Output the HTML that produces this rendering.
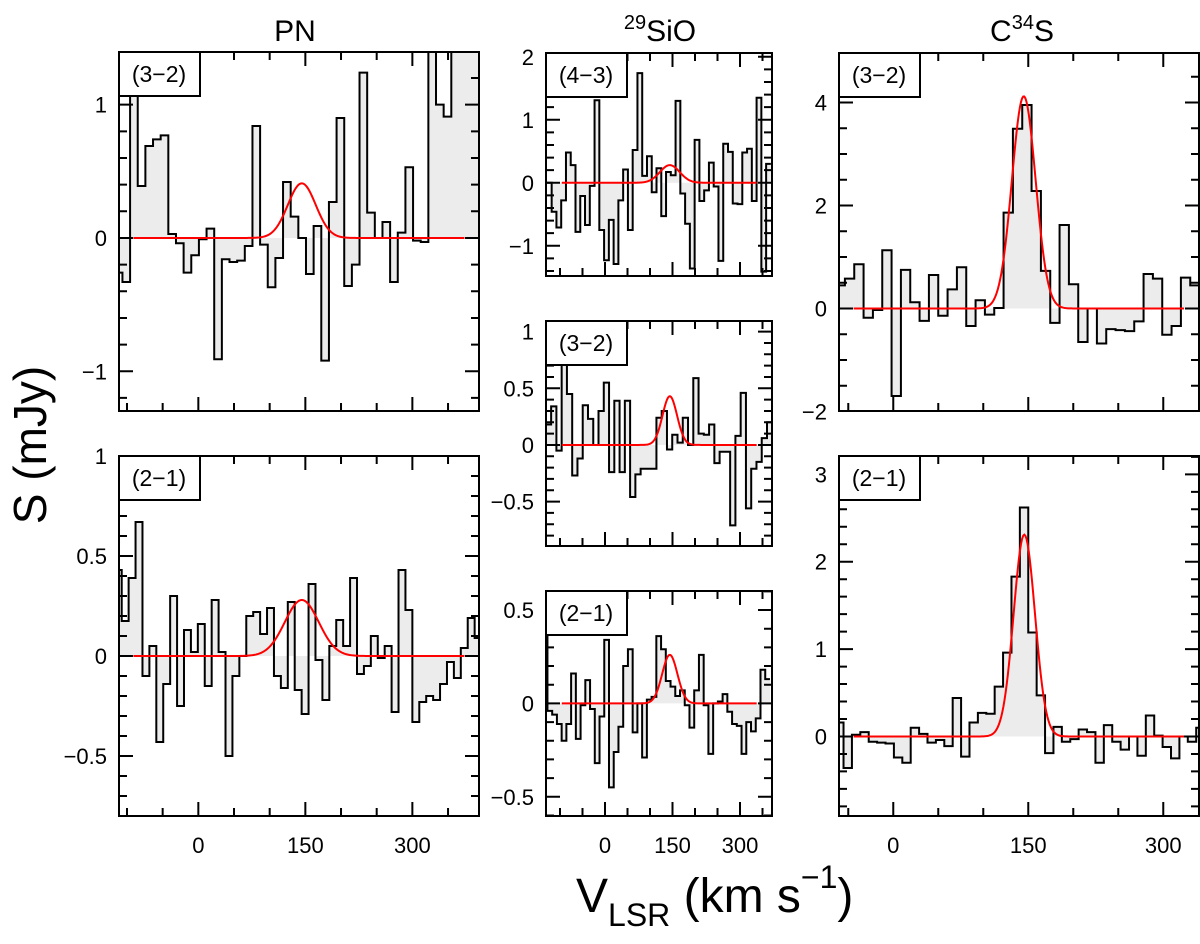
<!DOCTYPE html>
<html><head><meta charset="utf-8"><style>
html,body{margin:0;padding:0;background:#fff;}
svg text{font-family:"Liberation Sans",sans-serif;fill:#000;}
</style></head><body>
<svg id="fig" xmlns="http://www.w3.org/2000/svg" width="1200" height="939" viewBox="0 0 1200 939">
<text x="295" y="41" font-size="30" text-anchor="middle">PN</text>
<text x="660" y="41" font-size="30" text-anchor="middle"><tspan font-size="20" dy="-12">29</tspan><tspan dy="12">SiO</tspan></text>
<text x="1022" y="41" font-size="30" text-anchor="middle">C<tspan font-size="20" dy="-12">34</tspan><tspan dy="12">S</tspan></text>
<text transform="translate(46,445) rotate(-90)" font-size="46" text-anchor="middle">S  (mJy)</text>
<text x="576" y="912" font-size="48">V<tspan font-size="32" dy="14">LSR</tspan><tspan dy="-14">  (km  s</tspan><tspan font-size="32" dy="-24">−1</tspan><tspan dy="24">)</tspan></text>
</svg>
<script>
// ---- data arrays ----
const pn32Start = -117.1, pn32Width = 10.72;
const pn32Values = [-0.26,-0.33,1.1,0.39,0.69,0.74,0.77,0.03,-0.04,-0.26,-0.13,-0.01,0.07,-0.91,-0.16,-0.18,-0.17,-0.06,0.84,-0.05,-0.37,-0.15,0.42,0.16,0.0,-0.27,0.09,-0.92,0.27,0.9,-0.36,-0.2,1.24,0.19,0.0,0.12,-0.33,0.04,0.53,-0.02,-0.03,1.6,1.0,0.91,1.6,1.6,1.6,1.6];
const pn21Start = -117.1, pn21Width = 9.7;
const pn21Values = [0.43,0.175,0.39,0.67,-0.10,0.05,-0.43,-0.14,0.30,-0.25,0.13,0.02,0.16,-0.15,0.28,0.02,-0.5,-0.1,0,0.2,0.22,0.11,0.24,-0.1,-0.16,0.27,-0.17,-0.29,0.36,-0.02,-0.22,0.05,0.18,0.05,0.39,-0.09,-0.05,0.1,-0.01,0.05,-0.28,0.43,0.23,-0.33,-0.23,-0.2,-0.22,-0.14,-0.03,-0.11,0.04,0.19,0.09];
const sio43Start = -129.1, sio43Width = 10.59;
const sio43Values = [0,-0.46,-0.71,-0.28,0.48,0.28,-0.78,-0.21,-0.67,-0.05,1.31,-0.75,-1.23,-0.59,-1.29,-0.28,0.21,-0.75,0.52,1.74,0.11,0.42,-0.15,0.23,-0.53,0.17,0.12,1.30,-0.17,-0.65,-1.36,0.68,-0.29,-0.12,0.32,-0.06,-1.24,0.62,0.49,-0.33,-0.34,0.48,0.54,-0.29,1.35,-1.41,0.3];
const sio32Start = -131.4, sio32Width = 11.7;
const sio32Values = [0.18,0.34,-0.05,0.75,0.45,-0.27,-0.12,0.35,0.23,0,0.3,0.55,-0.24,0.39,-0.24,0.39,-0.46,-0.26,-0.21,-0.21,-0.21,0.24,0.3,-0.04,0.09,0.02,0.24,0,0.59,0.1,0.09,0.18,-0.16,-0.06,-0.06,-0.71,0.08,0.46,-0.56,-0.21,-0.15,0.06,0.2];
const sio21Start = -138.4, sio21Width = 10.52;
const sio21Values = [0.36,-0.04,-0.06,-0.11,-0.2,-0.11,0.16,-0.19,-0.01,0.125,-0.03,-0.32,-0.07,0.34,-0.45,-0.26,-0.125,0.2,0.29,-0.155,0,-0.29,0.02,0.035,0.36,0.29,0.12,0.09,0.04,0.07,-0.01,-0.13,0.07,0.26,-0.01,-0.27,0,0.01,0.05,-0.045,-0.11,-0.12,-0.27,-0.1,-0.15,-0.08,0.18,0.13];
const c32Start = -64.1, c32Width = 10.37;
const c32Values = [0.45,0.58,0.86,-0.18,-0.03,1.13,-1.70,0.75,0.12,-0.24,0.65,-0.14,0.37,0.8,-0.34,0.16,-0.12,0.01,1.86,3.49,3.95,2.28,0.73,-0.28,1.62,0.47,-0.65,0,-0.68,-0.4,-0.42,-0.44,-0.25,0.67,0.58,-0.51,-0.34,0.6,0.45];
const c21Start = -64.6, c21Width = 9.33;
const c21Values = [0.16,-0.36,0.02,0.05,-0.06,-0.07,-0.08,-0.24,-0.3,0.1,0.03,-0.07,-0.04,-0.11,0.44,-0.23,0.16,0.27,0.26,0.57,0.96,1.83,2.62,1.19,0.47,-0.19,0.11,-0.06,-0.03,0.08,0.05,-0.3,0.13,-0.06,-0.15,0,-0.22,0.24,0.01,-0.12,-0.25,0,-0.06,0.1];
// gaussian fits: [amplitude, center, fwhm, from, to]
const pn32Fit = [0.41,145,46,-91,373];
const pn21Fit = [0.28,145,56,-91,373];
const sio43Fit = [0.28,144,52,-96,337];
const sio32Fit = [0.43,144,38,-96,337];
const sio21Fit = [0.26,144,40,-96,337];
const c32Fit = [4.12,145,31,-44,323];
const c21Fit = [2.31,145.6,28,-44,323];
const xTickLabels = ["0","150","300"];
const xTickValues = [0,150,300];

const NS = "http://www.w3.org/2000/svg";
const svg = document.getElementById('fig');
function mk(tag, attrs, parent){ const e=document.createElementNS(NS,tag); for(const k in attrs) e.setAttribute(k,attrs[k]); (parent||svg).appendChild(e); return e; }

const panels = [
 {id:'pn-32', label:'(3−2)', x0:119,x1:479,y0:52,y1:411, xd:[-111.2,393.4], yd:[1.395,-1.298], yMinor:0.2,yMajor:1, yLab:[[1,'1'],[0,'0'],[-1,'−1']], start:pn32Start,width:pn32Width,vals:pn32Values,fit:pn32Fit,xlab:false},
 {id:'pn-21', label:'(2−1)', x0:119,x1:479,y0:456,y1:816, xd:[-111.2,393.4], yd:[1.0,-0.8], yMinor:0.1,yMajor:0.5, yLab:[[1,'1'],[0.5,'0.5'],[0,'0'],[-0.5,'−0.5']], start:pn21Start,width:pn21Width,vals:pn21Values,fit:pn21Fit,xlab:true},
 {id:'sio-43', label:'(4−3)', x0:546,x1:772,y0:53,y1:276, xd:[-131.1,371.1], yd:[2.06,-1.48], yMinor:0.2,yMajor:1, yLab:[[2,'2'],[1,'1'],[0,'0'],[-1,'−1']], start:sio43Start,width:sio43Width,vals:sio43Values,fit:sio43Fit,xlab:false},
 {id:'sio-32', label:'(3−2)', x0:546,x1:772,y0:321,y1:546, xd:[-131.1,371.1], yd:[1.094,-0.892], yMinor:0.1,yMajor:0.5, yLab:[[1,'1'],[0.5,'0.5'],[0,'0'],[-0.5,'−0.5']], start:sio32Start,width:sio32Width,vals:sio32Values,fit:sio32Fit,xlab:false},
 {id:'sio-21', label:'(2−1)', x0:546,x1:772,y0:591,y1:816, xd:[-131.1,371.1], yd:[0.602,-0.603], yMinor:0.1,yMajor:0.5, yLab:[[0.5,'0.5'],[0,'0'],[-0.5,'−0.5']], start:sio21Start,width:sio21Width,vals:sio21Values,fit:sio21Fit,xlab:true},
 {id:'c34s-32', label:'(3−2)', x0:839,x1:1199,y0:53,y1:411, xd:[-60.3,339.7], yd:[4.96,-1.99], yMinor:0.5,yMajor:2, yLab:[[4,'4'],[2,'2'],[0,'0'],[-2,'−2']], start:c32Start,width:c32Width,vals:c32Values,fit:c32Fit,xlab:false},
 {id:'c34s-21', label:'(2−1)', x0:839,x1:1199,y0:456,y1:816, xd:[-60.3,339.7], yd:[3.21,-0.91], yMinor:0.2,yMajor:1, yLab:[[3,'3'],[2,'2'],[1,'1'],[0,'0']], start:c21Start,width:c21Width,vals:c21Values,fit:c21Fit,xlab:true}
];

panels.forEach((p,pi)=>{
  const sx = v => p.x0 + (v-p.xd[0])/(p.xd[1]-p.xd[0])*(p.x1-p.x0);
  const sy = v => p.y0 + (p.yd[0]-v)/(p.yd[0]-p.yd[1])*(p.y1-p.y0);
  const g = mk('g',{});
  
  
  const cp = mk('clipPath',{id:'cp'+pi}, g);
  mk('rect',{x:p.x0,y:p.y0,width:p.x1-p.x0,height:p.y1-p.y0},cp);
  const inner = mk('g',{'clip-path':'url(#cp'+pi+')'},g);
  const y0 = sy(0);
  let fill = 'M'+sx(p.start)+','+y0;
  let line = '';
  p.vals.forEach((v,i)=>{
    const a = sx(p.start+i*p.width), b = sx(p.start+(i+1)*p.width), y = sy(v);
    fill += ' L'+a+','+y+' L'+b+','+y;
    line += (i===0?'M':' L')+a+','+y+' L'+b+','+y;
  });
  fill += ' L'+sx(p.start+p.vals.length*p.width)+','+y0+' Z';
  const f = mk('path',{d:fill,fill:'#ececec',stroke:'none'},inner);
  
  
  const l = mk('path',{d:line,fill:'none',stroke:'#000','stroke-width':2},inner);
  
  
  const [A,c,w,fr,to] = p.fit; const s = w/2.3548;
  let gd='';
  for(let k=0;k<=300;k++){ const v = fr+(to-fr)*k/300; const y = A*Math.exp(-0.5*((v-c)/s)**2); gd += (k?' L':'M')+sx(v).toFixed(2)+','+sy(y).toFixed(2); }
  const gl = mk('path',{d:gd,fill:'none',stroke:'#ff0000','stroke-width':2},inner);
  
  
  let td='';
  const xs = Math.ceil(p.xd[0]/50)*50;
  for(let v=xs; v<=p.xd[1]; v+=50){
    const L = (v%150===0)?14:8, x=sx(v);
    td += ` M${x},${p.y1} v${-L} M${x},${p.y0} v${L}`;
  }
  const ys = Math.ceil(p.yd[1]/p.yMinor-1e-9)*p.yMinor;
  for(let v=ys; v<=p.yd[0]+1e-9; v+=p.yMinor){
    const maj = Math.abs(v/p.yMajor - Math.round(v/p.yMajor))<1e-6;
    const L = maj?14:8, y=sy(v);
    td += ` M${p.x0},${y} h${L} M${p.x1},${y} h${-L}`;
  }
  mk('path',{d:td,stroke:'#000','stroke-width':2,fill:'none'},g);
  const fr2 = mk('rect',{x:p.x0,y:p.y0,width:p.x1-p.x0,height:p.y1-p.y0,fill:'none',stroke:'#000','stroke-width':2},g);
  
  
  const lb = mk('rect',{x:p.x0,y:p.y0,width:81,height:44,fill:'#fff',stroke:'#000','stroke-width':2},g);
  
  
  const lt = mk('text',{x:p.x0+40,y:p.y0+30,'font-size':23,'text-anchor':'middle'},g);
  lt.textContent = p.label;
  
  
  p.yLab.forEach(([v,t])=>{
    const e = mk('text',{x:p.x0-12,y:sy(v)+8,'font-size':22,'text-anchor':'end'},g);
    e.textContent = t;
    
    
  });
  if(p.xlab){
    xTickValues.forEach((v,i)=>{
      const e = mk('text',{x:sx(v),y:p.y1+37,'font-size':22,'text-anchor':'middle'},g);
      e.textContent = xTickLabels[i];
      
      
    });
  }
});
</script>
</body></html>
